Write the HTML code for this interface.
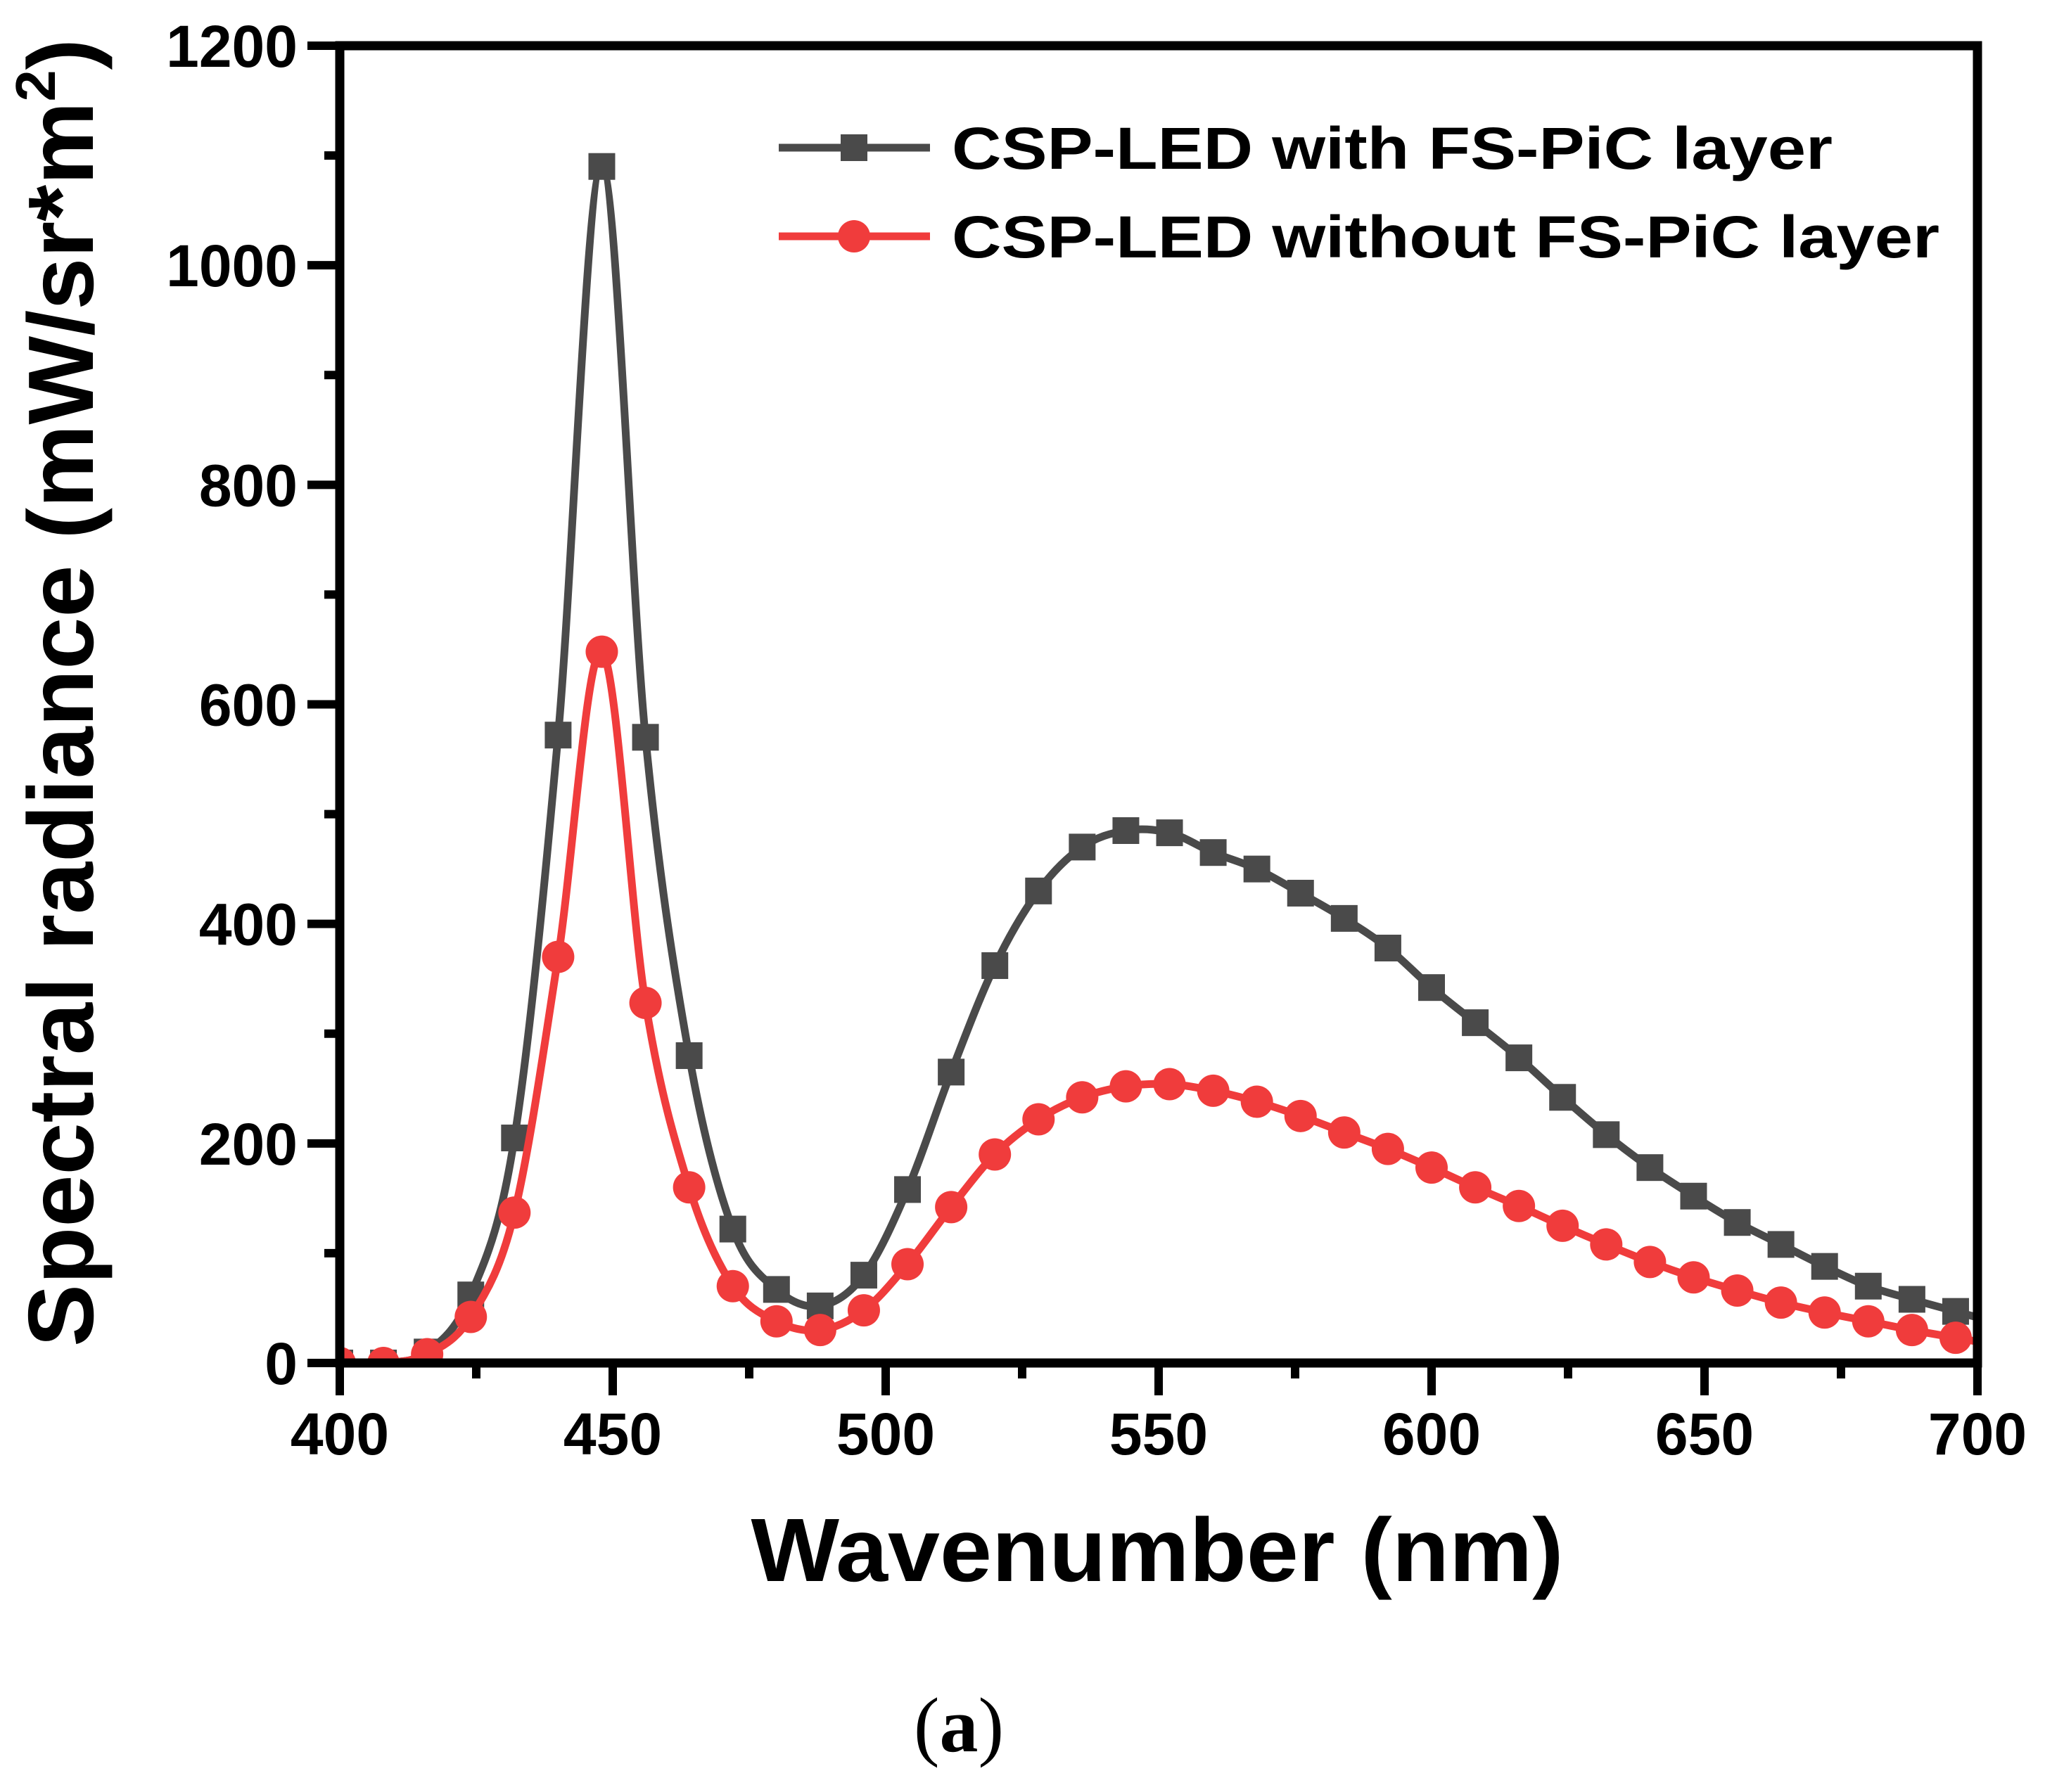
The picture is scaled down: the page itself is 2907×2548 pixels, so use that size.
<!DOCTYPE html>
<html><head><meta charset="utf-8"><style>
html,body{margin:0;padding:0;background:#fff;}
svg{display:block;}
text{font-family:"Liberation Sans",Arial,sans-serif;font-weight:bold;fill:#000;}
</style></head><body>
<svg id="chart" width="2907" height="2548" viewBox="0 0 2907 2548" xmlns="http://www.w3.org/2000/svg">
<g id="plot"></g>
<g id="axes"></g>
<g id="legend"></g>
<text x="0" y="0" transform="translate(132,985) rotate(-90)" text-anchor="middle" font-size="132" textLength="1860" lengthAdjust="spacingAndGlyphs">Spectral radiance (mW/sr*m<tspan font-size="80" dy="-54">2</tspan><tspan dy="54">)</tspan></text>
<text x="1645" y="2248" text-anchor="middle" font-size="128" textLength="1155" lengthAdjust="spacingAndGlyphs">Wavenumber (nm)</text>
<text x="1363" y="2490" text-anchor="middle" font-size="110" style="font-family:'Liberation Serif',serif;font-weight:normal">(<tspan font-weight="bold">a</tspan>)</text>
</svg>
<script>
const wavelengths=[400,408,416,424,432,440,448,456,464,472,480,488,496,504,512,520,528,536,544,552,560,568,576,584,592,600,608,616,624,632,640,648,656,664,672,680,688,696];
const withLayer=[0,0,10,62,205,572,1090,570,280,122,67,52,80,158,265,362,430,470,485,483,465,450,428,405,378,342,310,278,242,208,178,152,128,108,88,70,58,47];
const withoutLayer=[0,0,8,42,137,370,648,328,160,70,38,30,48,90,142,190,222,242,252,254,248,238,225,210,195,178,160,143,125,108,92,78,66,55,46,38,30,23];
const xTicks=[400,450,500,550,600,650,700];
const yTicks=[0,200,400,600,800,1000,1200];
const seriesNames=["CSP-LED with FS-PiC layer","CSP-LED without FS-PiC layer"];

const NS="http://www.w3.org/2000/svg";
const X0=483,X1=2811,Y0=1938,Y1=65;
const xs=v=>X0+(v-400)/300*(X1-X0);
const ys=v=>Y0-v/1200*(Y0-Y1);
function mk(tag,attrs,parent){const e=document.createElementNS(NS,tag);for(const k in attrs)e.setAttribute(k,attrs[k]);parent.appendChild(e);return e;}
const plot=document.getElementById('plot'),axes=document.getElementById('axes'),legend=document.getElementById('legend');
const defs=mk('defs',{},plot);
const cp=mk('clipPath',{id:'clip'},defs);
mk('rect',{x:X0,y:Y1,width:X1-X0,height:Y0-Y1},cp);

function smoothPath(xsArr,ysArr){
  const p=xsArr.map((x,i)=>[xs(x),ys(ysArr[i])]);
  let d=`M${p[0][0]},${p[0][1]}`;
  for(let i=0;i<p.length-1;i++){
    const p0=p[i-1]||p[i],p1=p[i],p2=p[i+1],p3=p[i+2]||p2;
    const c1=[p1[0]+(p2[0]-p0[0])/6,p1[1]+(p2[1]-p0[1])/6];
    const c2=[p2[0]-(p3[0]-p1[0])/6,p2[1]-(p3[1]-p1[1])/6];
    d+=` C${c1[0]},${c1[1]} ${c2[0]},${c2[1]} ${p2[0]},${p2[1]}`;
  }
  const last=p[p.length-1];const prev=p[p.length-2];
  const ex=xs(700);const ey=last[1]+(last[1]-prev[1])/(last[0]-prev[0])*(ex-last[0]);
  d+=` L${ex},${ey}`;
  return d;
}
function drawSeries(vals,color,shape,name){
  const g=mk('g',{'clip-path':'url(#clip)'},plot);
  
  
  const path=mk('path',{d:smoothPath(wavelengths,vals),fill:'none',stroke:color,'stroke-width':11,'stroke-linejoin':'round'},g);
  
  
  wavelengths.forEach((w,i)=>{
    const cx=xs(w),cy=ys(vals[i]);let m;
    if(shape==='square'){m=mk('rect',{x:cx-19,y:cy-19,width:38,height:38,fill:color},g);}
    else{m=mk('circle',{cx:cx,cy:cy,r:23,fill:color},g);}
    
    
  });
}
drawSeries(withLayer,'#4a4a4a','square','series-with-layer');
drawSeries(withoutLayer,'#f03c3c','circle','series-without-layer');

const frame=mk('rect',{x:X0,y:Y1,width:X1-X0,height:Y0-Y1,fill:'none',stroke:'#000','stroke-width':13},axes);


for(let v=400;v<=700;v+=25){
  const major=v%50===0;
  const t=mk('line',{x1:xs(v),x2:xs(v),y1:Y0,y2:Y0+(major?46:22),stroke:'#000','stroke-width':12},axes);
  
  
}
xTicks.forEach(v=>{
  const t=mk('text',{x:xs(v),y:2068,'text-anchor':'middle','font-size':84},axes);
  t.textContent=v;
  
  
});
for(let v=0;v<=1200;v+=100){
  const major=v%200===0;
  const t=mk('line',{x1:X0,x2:X0-(major?46:22),y1:ys(v),y2:ys(v),stroke:'#000','stroke-width':12},axes);
  
  
}
yTicks.forEach(v=>{
  const t=mk('text',{x:423,y:ys(v)+30,'text-anchor':'end','font-size':84},axes);
  t.textContent=v;
  
  
});
[[210,'#4a4a4a','square'],[336,'#f03c3c','circle']].forEach((e,i)=>{
  const g=mk('g',{},legend);
  
  
  mk('line',{x1:1107,x2:1322,y1:e[0],y2:e[0],stroke:e[1],'stroke-width':11},g);
  if(e[2]==='square')mk('rect',{x:1195,y:e[0]-19,width:38,height:38,fill:e[1]},g);
  else mk('circle',{cx:1214,cy:e[0],r:23,fill:e[1]},g);
  const t=mk('text',{x:1353,y:e[0]+30,'font-size':84,textLength:i===0?1252:1404,lengthAdjust:'spacingAndGlyphs'},g);
  t.textContent=seriesNames[i];
});
</script>
</body></html>
